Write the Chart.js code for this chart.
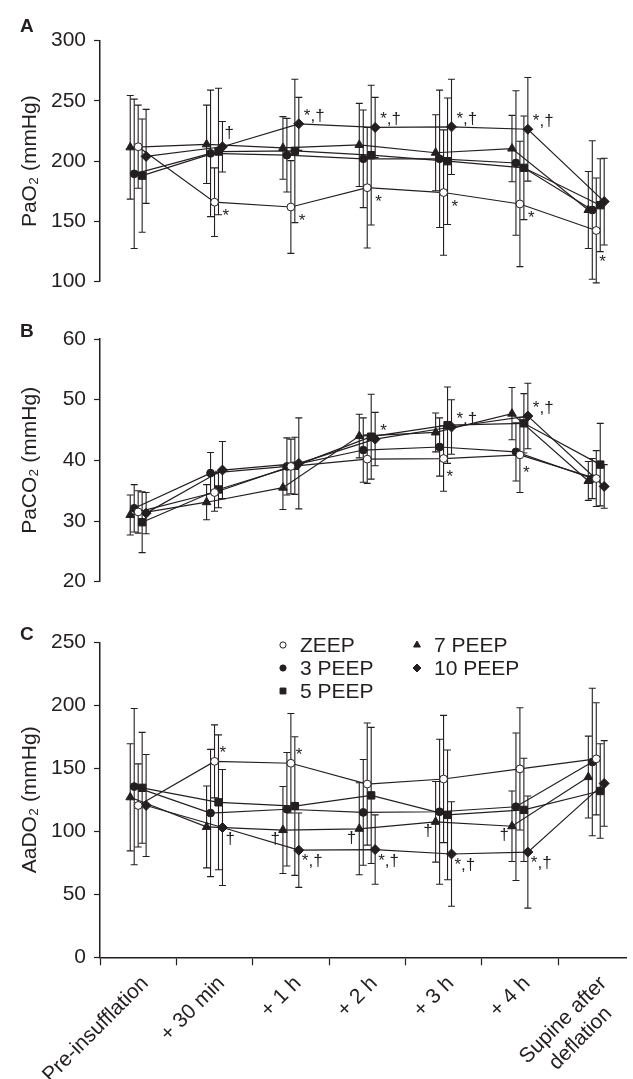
<!DOCTYPE html>
<html>
<head>
<meta charset="utf-8">
<script src="https://cdn.jsdelivr.net/npm/chart.js"></script>
<style>
  body { margin: 0; background: #fff; }
  #wrap { position: relative; width: 633px; height: 1079px; overflow: hidden; }
  canvas { position: absolute; left: 0; }
</style>
</head>
<body>
<div id="wrap">
  <canvas id="chartA" width="633" height="300" style="top:0px"></canvas>
  <canvas id="chartB" width="633" height="310" style="top:290px"></canvas>
  <canvas id="chartC" width="633" height="489" style="top:590px"></canvas>
</div>
<script>
const timePoints = ['Pre-insufflation', '+ 30 min', '+ 1 h', '+ 2 h', '+ 3 h', '+ 4 h', ['Supine after', 'deflation   ']];
const groups = ['ZEEP', '3 PEEP', '5 PEEP', '7 PEEP', '10 PEEP'];

// A: PaO2 (mmHg), mean and SD
const pao2Zeep    = [212, 166, 162, 178, 174, 164.5, 142.5];
const pao2ZeepSd  = [34.5, 28.5, 38.5, 50, 52, 52, 43.5];
const pao2P3      = [189.5, 206.5, 205, 202, 202, 198.5, 159.5];
const pao2P3Sd    = [62, 52.5, 30.5, 40.5, 57, 60, 57.5];
const pao2P5      = [188, 208, 208.5, 205, 200, 194.5, 163.5];
const pao2P5Sd    = [47, 52.5, 59.5, 58, 52.5, 43, 38.5];
const pao2P7      = [211.5, 214, 211, 213.5, 207, 210.5, 159.5];
const pao2P7Sd    = [43, 32.5, 26, 34.5, 31.5, 27.5, 32];
const pao2P10     = [204, 212, 231, 228, 228.5, 226.5, 166.5];
const pao2P10Sd   = [39, 21, 22, 25, 39.5, 43, 36];

// B: PaCO2 (mmHg)
const paco2Zeep   = [31.5, 34.7, 39, 40.2, 40.3, 40.9, 37.0];
const paco2ZeepSd = [3.5, 3.1, 4.5, 4, 5.4, 6.2, 4.6];
const paco2P3     = [32.1, 37.9, 39.0, 41.7, 42.2, 41.4, 37.0];
const paco2P3Sd   = [3.9, 3.4, 4.7, 5.3, 4.8, 4.8, 3.3];
const paco2P5     = [29.8, 35.2, 39.1, 43.9, 45.8, 46.1, 39.3];
const paco2P5Sd   = [5, 3, 4.7, 7, 6.3, 4.9, 6.8];
const paco2P7     = [31.0, 33.1, 35.5, 44.0, 44.6, 47.7, 36.6];
const paco2P7Sd   = [3.3, 2.9, 3.6, 3.6, 3.2, 4.3, 3.2];
const paco2P10    = [31.3, 38.4, 39.5, 43.5, 45.5, 47.3, 35.7];
const paco2P10Sd  = [3.4, 4.7, 7.5, 4.4, 4.5, 5.4, 3.6];

// C: AaDO2 (mmHg)
const aado2Zeep   = [120.5, 155.5, 154, 137.5, 141.5, 149.5, 157.5];
const aado2ZeepSd = [33, 29, 39.5, 48.5, 50.5, 48.5, 44.5];
const aado2P3     = [135.5, 114.5, 117.5, 115, 115.5, 119.5, 155];
const aado2P3Sd   = [62, 50.5, 45, 42, 57.5, 58.5, 58.5];
const aado2P5     = [134.5, 123, 120, 128.5, 113, 117, 132];
const aado2P5Sd   = [44, 53.5, 55, 54, 51.5, 41, 37.5];
const aado2P7     = [127, 103.5, 101, 102, 107.5, 104, 143];
const aado2P7Sd   = [42.5, 32.5, 34.5, 36.5, 32, 28, 32.5];
const aado2P10    = [120.5, 103, 85, 85.5, 82, 83.5, 138];
const aado2P10Sd  = [40.5, 46, 29.5, 27.5, 41.5, 44.5, 34];

// significance marks: [group, time index, text, placement]
const marksA = [
  ['10 PEEP', 1, '\u2020', 'n'], ['ZEEP', 1, '*', 'e'],
  ['10 PEEP', 2, '*,\u2020', 'ne'], ['ZEEP', 2, '*', 'e'],
  ['10 PEEP', 3, '*,\u2020', 'ne'], ['ZEEP', 3, '*', 'e'],
  ['10 PEEP', 4, '*,\u2020', 'ne'], ['ZEEP', 4, '*', 'e'],
  ['10 PEEP', 5, '*,\u2020', 'ne'], ['ZEEP', 5, '*', 'e'],
  ['ZEEP', 6, '*', 'S']
];
const marksB = [
  ['10 PEEP', 3, '*', 'ne'],
  ['10 PEEP', 4, '*,\u2020', 'ne'], ['ZEEP', 4, '*', 's'],
  ['10 PEEP', 5, '*,\u2020', 'ne'], ['ZEEP', 5, '*', 's']
];
const marksC = [
  ['ZEEP', 1, '*', 'ne'], ['10 PEEP', 1, '\u2020', 'se'],
  ['ZEEP', 2, '*', 'ne'], ['7 PEEP', 2, '\u2020', 'sw'], ['10 PEEP', 2, '*,\u2020', 'se'],
  ['7 PEEP', 3, '\u2020', 'sw'], ['10 PEEP', 3, '*,\u2020', 'se'],
  ['7 PEEP', 4, '\u2020', 'sw'], ['10 PEEP', 4, '*,\u2020', 'se'],
  ['7 PEEP', 5, '\u2020', 'sw'], ['10 PEEP', 5, '*,\u2020', 'se']
];

const INK = '#231f20';
const FAMILY = '"Liberation Sans", Arial, Helvetica, sans-serif';
const font21 = { family: FAMILY, size: 21 };

const xOffset = { 'ZEEP': 0, '3 PEEP': -0.052, '5 PEEP': 0.052, '7 PEEP': -0.104, '10 PEEP': 0.104 };
const markerStyle = {
  'ZEEP':    { pointStyle: 'circle',   radius: 3.9, fill: '#ffffff' },
  '3 PEEP':  { pointStyle: 'circle',   radius: 3.9, fill: INK },
  '5 PEEP':  { pointStyle: 'rect',     radius: 5.2, fill: INK },
  '7 PEEP':  { pointStyle: 'triangle', radius: 5,   fill: INK },
  '10 PEEP': { pointStyle: 'rectRot',  radius: 5,   fill: INK }
};
const placements = {
  ne: { dx: 5, dy: -3 },
  n:  { dx: 2, dy: -9 },
  e:  { dx: 8, dy: 19 },
  s:  { dx: 3, dy: 23 },
  S:  { dx: 3, dy: 37 },
  se: { dx: 3, dy: 16 },
  sw: { dx: -3, dy: 14, align: 'right' }
};

function buildDatasets(means, sds) {
  return groups.map((g, i) => ({
    label: g,
    data: means[i].map((v, j) => ({ x: j + 0.5 + xOffset[g], y: v })),
    sd: sds[i],
    borderColor: INK,
    borderWidth: 1.2,
    tension: 0,
    clip: false,
    pointStyle: markerStyle[g].pointStyle,
    pointRadius: markerStyle[g].radius,
    pointHoverRadius: markerStyle[g].radius,
    pointBackgroundColor: markerStyle[g].fill,
    pointBorderColor: INK,
    pointBorderWidth: 1
  }));
}

// SD whiskers drawn under the lines and markers
const errorBars = {
  id: 'errorBars',
  beforeDatasetsDraw(chart) {
    const ctx = chart.ctx, y = chart.scales.y;
    ctx.save();
    ctx.strokeStyle = INK;
    ctx.lineWidth = 1.1;
    chart.data.datasets.forEach((ds, i) => {
      chart.getDatasetMeta(i).data.forEach((pt, j) => {
        const m = ds.data[j].y, s = ds.sd[j];
        const top = y.getPixelForValue(m + s), bot = y.getPixelForValue(m - s);
        ctx.beginPath();
        ctx.moveTo(pt.x, top); ctx.lineTo(pt.x, bot);
        ctx.moveTo(pt.x - 3.5, top); ctx.lineTo(pt.x + 3.5, top);
        ctx.moveTo(pt.x - 3.5, bot); ctx.lineTo(pt.x + 3.5, bot);
        ctx.stroke();
      });
    });
    ctx.restore();
  }
};

function sigMarks(items) {
  return {
    id: 'sigMarks',
    afterDatasetsDraw(chart) {
      const ctx = chart.ctx;
      ctx.save();
      ctx.font = '17px ' + FAMILY;
      ctx.fillStyle = INK;
      ctx.textBaseline = 'alphabetic';
      items.forEach(([g, j, text, place]) => {
        const pt = chart.getDatasetMeta(groups.indexOf(g)).data[j];
        const p = placements[place];
        ctx.textAlign = p.align || 'left';
        ctx.fillText(text, pt.x + p.dx, pt.y + p.dy);
      });
      ctx.restore();
    }
  };
}

function panelLetter(letter, baseline) {
  return {
    id: 'panelLetter',
    afterDraw(chart) {
      const ctx = chart.ctx;
      ctx.save();
      ctx.font = 'bold 19px ' + FAMILY;
      ctx.fillStyle = INK;
      ctx.textAlign = 'left';
      ctx.textBaseline = 'alphabetic';
      ctx.fillText(letter, 20, baseline);
      ctx.restore();
    }
  };
}

const groupLegend = {
  id: 'groupLegend',
  afterDraw(chart) {
    const ctx = chart.ctx;
    ctx.save();
    ctx.font = '21px ' + FAMILY;
    ctx.textAlign = 'left';
    ctx.textBaseline = 'middle';
    groups.forEach((g, i) => {
      const col = i < 3 ? 0 : 1, row = i < 3 ? i : i - 3;
      const mx = 283 + col * 134, my = 55 + row * 23;
      ctx.fillStyle = markerStyle[g].fill;
      ctx.strokeStyle = INK;
      ctx.lineWidth = 1;
      Chart.helpers.drawPoint(ctx, {
        pointStyle: markerStyle[g].pointStyle,
        radius: markerStyle[g].radius * 0.8,
        rotation: 0,
        borderWidth: 1
      }, mx, my);
      ctx.fillStyle = INK;
      ctx.fillText(g, mx + 17, my + 1);
    });
    ctx.restore();
  }
};

function yAxis(min, max, step, title) {
  return {
    min: min, max: max,
    ticks: { stepSize: step, font: font21, color: INK, padding: 8 },
    grid: { drawOnChartArea: false, tickLength: 6, tickColor: INK, tickWidth: 1.2 },
    border: { color: INK, width: 1.5 },
    title: { display: true, text: title, font: font21, color: INK, padding: { top: 18, bottom: 0 } },
    afterFit(s) { s.width = 100; s.paddingTop = 0; s.paddingBottom = 0; }
  };
}

const hiddenX = { type: 'linear', min: 0, max: 6.9, display: false };

const labelledX = {
  type: 'linear', min: 0, max: 6.9,
  afterBuildTicks(s) {
    const t = [];
    timePoints.forEach((_, i) => { t.push({ value: i }); t.push({ value: i + 0.5 }); });
    s.ticks = t;
  },
  ticks: {
    autoSkip: false, minRotation: 45, maxRotation: 45,
    padding: 6, labelOffset: 7,
    font: font21, color: INK,
    callback: (v) => Number.isInteger(v) ? '' : timePoints[Math.floor(v)]
  },
  grid: {
    drawOnChartArea: false, tickLength: 8, tickWidth: 1.2,
    tickColor: (c) => (c.tick && Number.isInteger(c.tick.value)) ? INK : 'rgba(0,0,0,0)'
  },
  border: { color: INK, width: 1.5 },
  afterFit(s) { s.height = 121.7; s.paddingLeft = 0; s.paddingRight = 0; }
};

function makePanel(id, means, sds, x, y, pad, plugins) {
  return new Chart(document.getElementById(id), {
    type: 'line',
    data: { datasets: buildDatasets(means, sds) },
    options: {
      responsive: false,
      animation: false,
      events: [],
      layout: { padding: { top: pad[0], bottom: pad[1], left: 0, right: 0 } },
      plugins: { legend: { display: false }, tooltip: { enabled: false } },
      scales: { x: x, y: y }
    },
    plugins: plugins
  });
}

makePanel('chartA',
  [pao2Zeep, pao2P3, pao2P5, pao2P7, pao2P10],
  [pao2ZeepSd, pao2P3Sd, pao2P5Sd, pao2P7Sd, pao2P10Sd],
  hiddenX, yAxis(100, 300, 50, 'PaO\u2082 (mmHg)'), [40.7, 18.3],
  [errorBars, sigMarks(marksA), panelLetter('A', 32)]);

makePanel('chartB',
  [paco2Zeep, paco2P3, paco2P5, paco2P7, paco2P10],
  [paco2ZeepSd, paco2P3Sd, paco2P5Sd, paco2P7Sd, paco2P10Sd],
  hiddenX, yAxis(20, 60, 10, 'PaCO\u2082 (mmHg)'), [49, 18.3],
  [errorBars, sigMarks(marksB), panelLetter('B', 47)]);

makePanel('chartC',
  [aado2Zeep, aado2P3, aado2P5, aado2P7, aado2P10],
  [aado2ZeepSd, aado2P3Sd, aado2P5Sd, aado2P7Sd, aado2P10Sd],
  labelledX, yAxis(0, 250, 50, 'AaDO\u2082 (mmHg)'), [52.3, 0],
  [errorBars, sigMarks(marksC), panelLetter('C', 50), groupLegend]);
</script>
</body>
</html>
